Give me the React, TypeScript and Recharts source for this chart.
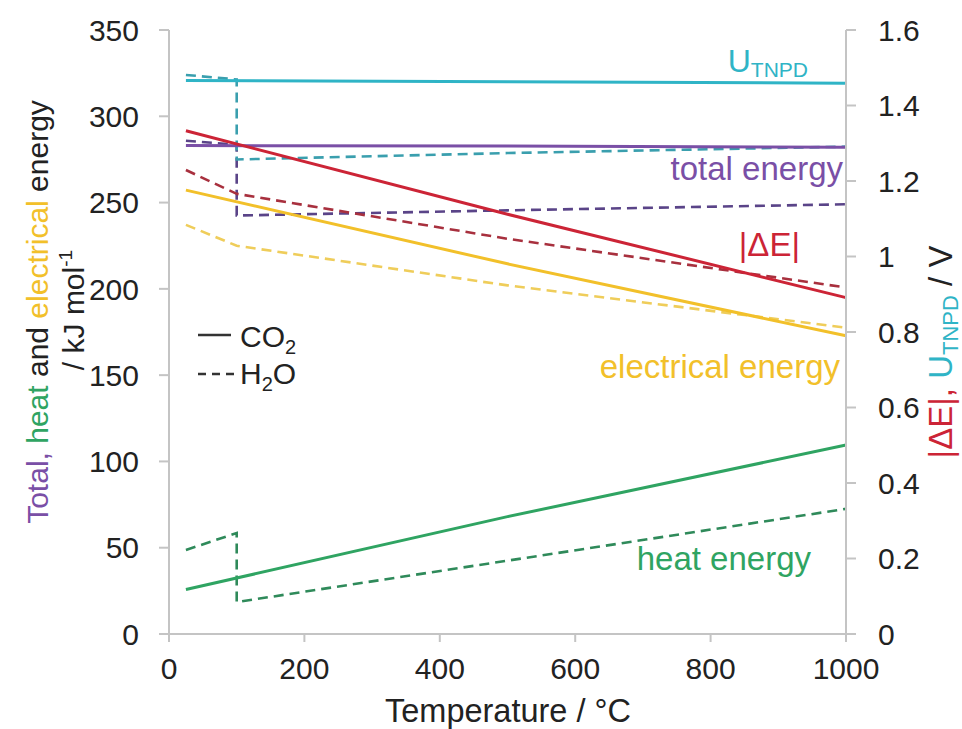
import { LineChart, Line, XAxis, YAxis, Customized } from "recharts"

const FONT = "'Liberation Sans', Arial, sans-serif"

// temperature grid (°C)
const co2Temp = [25, 500, 1000]
const h2oStepTemp = [25, 100, 100, 500, 1000]
const h2oTemp = [25, 100, 500, 1000]

// CO2 -> CO + 1/2 O2, kJ/mol and V
const co2Total = [283.0, 282.8, 282.0]
const co2Electrical = [257.2, 214.5, 172.8]
const co2Heat = [25.8, 68.0, 109.5]
const co2DeltaE = [1.333, 1.112, 0.891]
const co2Utnpd = [1.466, 1.463, 1.459]

// H2O -> H2 + 1/2 O2 (liquid below 100 °C)
const h2oTotal = [285.8, 283.5, 242.5, 245.5, 249.0]
const h2oUtnpd = [1.481, 1.469, 1.257, 1.274, 1.291]
const h2oHeat = [48.7, 58.5, 18.5, 42.5, 72.5]
const h2oElectrical = [237.1, 225.0, 202.0, 177.5]
const h2oDeltaE = [1.229, 1.166, 1.047, 0.918]

const xTicks = [0, 200, 400, 600, 800, 1000]
const energyTicks = [0, 50, 100, 150, 200, 250, 300, 350]
const voltTicks = [0, 0.2, 0.4, 0.6, 0.8, 1, 1.2, 1.4, 1.6]

const PURPLE = "#7a4fa6"
const GREEN = "#2fa462"
const YELLOW = "#f2c02a"
const RED = "#cc2436"
const CYAN = "#2fb4c6"
const AXIS = "#c4c4c4"
const INK = "#222"

const toPoints = (t: number[], v: number[]) => t.map((x, i) => ({ t: x, v: v[i] }))

function Annotations() {
  return (
    <g fontFamily={FONT}>
      {/* curve labels */}
      <text x={808} y={72} fontSize={32} fill={CYAN} textAnchor="end">
        U<tspan fontSize={21} dy={5}>TNPD</tspan>
      </text>
      <text x={843} y={180} fontSize={33} fill={PURPLE} textAnchor="end">total energy</text>
      <text x={800} y={256} fontSize={33} fill={RED} textAnchor="end">|ΔE|</text>
      <text x={840} y={378} fontSize={33} fill={YELLOW} textAnchor="end">electrical energy</text>
      <text x={811} y={570} fontSize={33} fill={GREEN} textAnchor="end">heat energy</text>

      {/* legend */}
      <line x1={198} y1={335} x2={231} y2={335} stroke="#333" strokeWidth={2.5} />
      <text x={240} y={347} fontSize={30} fill={INK}>
        CO<tspan fontSize={20} dy={7}>2</tspan>
      </text>
      <line x1={198} y1={374} x2={236} y2={374} stroke="#333" strokeWidth={2.5} strokeDasharray="8 6" />
      <text x={240} y={384} fontSize={30} fill={INK}>
        H<tspan fontSize={20} dy={7}>2</tspan>
        <tspan dy={-7}>O</tspan>
      </text>

      {/* left axis title */}
      <text transform="rotate(-90)" x={-312} y={48} fontSize={30} fill={INK} textAnchor="middle">
        <tspan fill={PURPLE}>Total,</tspan> <tspan fill={GREEN}>heat</tspan> and{" "}
        <tspan fill={YELLOW}>electrical</tspan> energy
      </text>
      <text transform="rotate(-90)" x={-310} y={84} fontSize={30} fill={INK} textAnchor="middle">
        / kJ mol<tspan fontSize={19} dy={-12}>-1</tspan>
      </text>

      {/* right axis title */}
      <text transform="rotate(-90)" x={-352} y={952} fontSize={33} fill={INK} textAnchor="middle">
        <tspan fill={RED}>|ΔE|,</tspan> <tspan fill={CYAN}>U</tspan>
        <tspan fill={CYAN} fontSize={22} dy={6}>TNPD</tspan>
        <tspan dy={-6}> / V</tspan>
      </text>

      {/* x axis title */}
      <text x={508} y={722} fontSize={32.5} fill={INK} textAnchor="middle">Temperature / °C</text>
    </g>
  )
}

export default function App() {
  const tick = { fill: INK, fontSize: 30, fontFamily: FONT }
  const solid = { strokeWidth: 3, dot: false, isAnimationActive: false, type: "linear" as const }
  const dashed = { ...solid, strokeWidth: 2.6, strokeDasharray: "10 6" }

  return (
    <div style={{ position: "absolute", left: 0, top: 0, width: 962, height: 729, background: "#fff" }}>
      <LineChart width={962} height={729} margin={{ top: 30, right: 0, bottom: 0, left: 0 }}>
        <XAxis
          type="number"
          dataKey="t"
          domain={[0, 1000]}
          ticks={xTicks}
          height={95}
          stroke={AXIS}
          strokeWidth={2}
          tickSize={8}
          tickMargin={16}
          tick={tick}
        />
        <YAxis
          yAxisId="left"
          domain={[0, 350]}
          ticks={energyTicks}
          width={169}
          stroke={AXIS}
          strokeWidth={2}
          tickSize={10}
          tickMargin={20}
          tick={tick}
        />
        <YAxis
          yAxisId="right"
          orientation="right"
          domain={[0, 1.6]}
          ticks={voltTicks}
          width={116}
          stroke={AXIS}
          strokeWidth={2}
          tickSize={10}
          tickMargin={22}
          tick={tick}
          tickFormatter={(v: number) => String(Number(v.toFixed(1)))}
        />

        {/* H2O, dashed */}
        <Line yAxisId="left" data={toPoints(h2oStepTemp, h2oHeat)} dataKey="v" stroke="#2f8a5a" {...dashed} />
        <Line yAxisId="left" data={toPoints(h2oTemp, h2oElectrical)} dataKey="v" stroke="#efcd5a" {...dashed} />
        <Line yAxisId="left" data={toPoints(h2oStepTemp, h2oTotal)} dataKey="v" stroke="#5a4488" {...dashed} />
        <Line yAxisId="right" data={toPoints(h2oTemp, h2oDeltaE)} dataKey="v" stroke="#a8303e" {...dashed} />
        <Line yAxisId="right" data={toPoints(h2oStepTemp, h2oUtnpd)} dataKey="v" stroke="#3a9fae" {...dashed} />

        {/* CO2, solid */}
        <Line yAxisId="left" data={toPoints(co2Temp, co2Heat)} dataKey="v" stroke={GREEN} {...solid} />
        <Line yAxisId="left" data={toPoints(co2Temp, co2Electrical)} dataKey="v" stroke={YELLOW} {...solid} />
        <Line yAxisId="left" data={toPoints(co2Temp, co2Total)} dataKey="v" stroke={PURPLE} {...solid} />
        <Line yAxisId="right" data={toPoints(co2Temp, co2DeltaE)} dataKey="v" stroke={RED} {...solid} />
        <Line yAxisId="right" data={toPoints(co2Temp, co2Utnpd)} dataKey="v" stroke={CYAN} {...solid} />

        <Customized component={Annotations} />
      </LineChart>
    </div>
  )
}
